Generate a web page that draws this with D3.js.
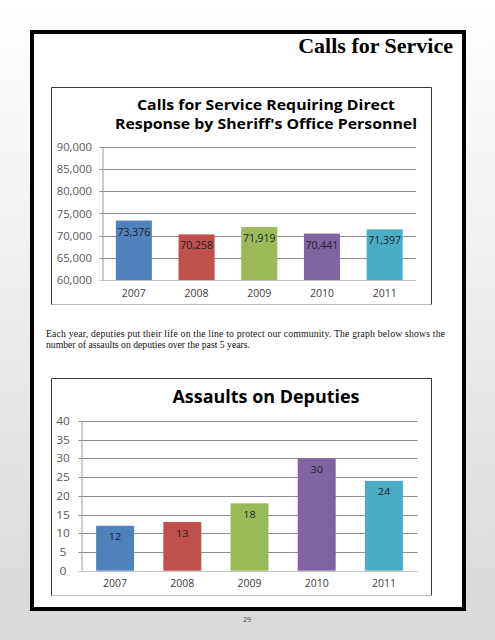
<!DOCTYPE html>
<html><head><meta charset="utf-8">
<script src="https://cdn.jsdelivr.net/npm/d3@7"></script>
<style>html,body{margin:0;padding:0;overflow:hidden;}svg{display:block;}</style>
</head><body>
<script>
// ---- data ----
const years = ["2007", "2008", "2009", "2010", "2011"];
const callsValues = [73376, 70258, 71919, 70441, 71397];
const assaultValues = [12, 13, 18, 30, 24];
const barColors = ["#4f81bd", "#c0504d", "#9bbb59", "#8064a2", "#4bacc6"];
const callsTicks = [60000, 65000, 70000, 75000, 80000, 85000, 90000];
const assaultTicks = [0, 5, 10, 15, 20, 25, 30, 35, 40];
const pageTitle = "Calls for Service";
const chart1Title = ["Calls for Service Requiring Direct", "Response by Sheriff's Office Personnel"];
const chart2Title = "Assaults on Deputies";
const paragraph = ["Each year, deputies put their life on the line to protect our community.  The graph below shows the",
                   "number of assaults on deputies over the past 5 years."];
const pageNumber = "29";

const W = 495, H = 640;
const sans = "'Open Sans', 'DejaVu Sans', sans-serif";
const serif = "'Liberation Serif', 'Times New Roman', serif";

const svg = d3.select("body").append("svg").attr("width", W).attr("height", H);
const defs = svg.append("defs");
const grad = defs.append("linearGradient").attr("id", "bg").attr("x1", 0).attr("y1", 0).attr("x2", 0).attr("y2", 1);
grad.append("stop").attr("offset", "0%").attr("stop-color", "#ffffff");
grad.append("stop").attr("offset", "100%").attr("stop-color", "#d8d8d8");
svg.append("rect").attr("width", W).attr("height", H).attr("fill", "url(#bg)");

// page border
svg.append("rect").attr("x", 32).attr("y", 32).attr("width", 432).attr("height", 577)
  .attr("fill", "#fff").attr("stroke", "#000").attr("stroke-width", 4);

svg.append("text").attr("x", 453).attr("y", 53).attr("text-anchor", "end")
  .attr("font-family", serif).attr("font-weight", "bold").attr("font-size", 22).attr("fill", "#000")
  .text(pageTitle);

function stretch(sel, k) {
  sel.each(function () {
    const l = this.getComputedTextLength();
    d3.select(this).attr("textLength", l * k).attr("lengthAdjust", "spacingAndGlyphs");
  });
}

function frame(g, x0, y0, x1, y1) {
  g.append("line").attr("x1", x0).attr("x2", x1).attr("y1", y1).attr("y2", y1).attr("stroke", "#b8b8b8");
  g.append("line").attr("x1", x0).attr("x2", x0).attr("y1", y0).attr("y2", y1).attr("stroke", "#3a3a3a");
  g.append("line").attr("x1", x0).attr("x2", x1).attr("y1", y0).attr("y2", y0).attr("stroke", "#3a3a3a");
  g.append("line").attr("x1", x1).attr("x2", x1).attr("y1", y0).attr("y2", y1).attr("stroke", "#3a3a3a");
}

function barChart(opts) {
  const g = svg.append("g");
  frame(g, 51.5, opts.fy0, 431.5, opts.fy1);
  const x = d3.scaleBand().domain(years).range([opts.x0, opts.x1])
    .paddingInner(opts.pad).paddingOuter(opts.pad / 2);
  const y = d3.scaleLinear().domain(opts.domain).range([opts.yb, opts.yt]);

  // gridlines
  g.selectAll(".grid").data(opts.ticks.slice(1)).join("line")
    .attr("x1", opts.x0 - 3).attr("x2", opts.x1)
    .attr("y1", d => Math.round(y(d)) + 0.5).attr("y2", d => Math.round(y(d)) + 0.5)
    .attr("stroke", "#8f8f8f").attr("stroke-width", 1);
  // y axis line
  g.append("line").attr("x1", opts.x0 + 0.5).attr("x2", opts.x0 + 0.5)
    .attr("y1", y(opts.domain[1])).attr("y2", y(opts.domain[0])).attr("stroke", "#9a9a9a");

  // bars
  g.selectAll(".bar").data(years).join("rect")
    .attr("x", d => x(d)).attr("width", x.bandwidth())
    .attr("y", (d, i) => y(opts.values[i]))
    .attr("height", (d, i) => y(opts.domain[0]) - y(opts.values[i]))
    .attr("fill", (d, i) => barColors[i]);

  // base line
  g.append("line").attr("x1", opts.x0 - 3).attr("x2", opts.x1)
    .attr("y1", Math.round(y(opts.domain[0])) + 0.5).attr("y2", Math.round(y(opts.domain[0])) + 0.5)
    .attr("stroke", "#c4c4c4");

  // y tick labels
  const yAxis = d3.axisLeft(y).tickValues(opts.ticks).tickSize(0).tickPadding(0)
    .tickFormat(opts.fmt);
  const ya = g.append("g").attr("transform", `translate(${opts.ylabX},0)`).call(yAxis);
  ya.select(".domain").remove();
  ya.selectAll("text").attr("font-family", sans).attr("font-size", opts.yFont)
    .attr("fill", "#5a5a5a").attr("text-anchor", opts.yAnchor).attr("dy", "0.35em");
  stretch(ya.selectAll("text"), opts.yStretch);

  // x labels
  const xAxis = d3.axisBottom(x).tickSize(0).tickPadding(0);
  const xa = g.append("g").attr("transform", `translate(0,${opts.xlabY})`).call(xAxis);
  xa.select(".domain").remove();
  xa.selectAll("text").attr("font-family", sans).attr("font-size", 10.5)
    .attr("fill", "#404040").attr("dy", 0);

  // data labels
  g.selectAll(".lbl").data(years).join("text")
    .attr("x", d => x(d) + x.bandwidth() / 2)
    .attr("y", (d, i) => y(opts.values[i]) + opts.lblOff)
    .attr("text-anchor", "middle").attr("font-family", sans).attr("font-size", opts.lblFont)
    .attr("fill", "#1e1e2a")
    .text((d, i) => opts.fmt(opts.values[i]))
    .call(s => stretch(s, opts.lblStretch));

  // title
  opts.title.forEach((t, i) => {
    g.append("text").attr("x", 266).attr("y", opts.titleY[i]).attr("text-anchor", "middle")
      .attr("font-family", sans).attr("font-weight", "bold").attr("font-size", opts.titleFont)
      .attr("fill", "#000").attr("textLength", opts.titleLen[i]).attr("lengthAdjust", "spacingAndGlyphs")
      .text(t);
  });
}

barChart({
  fy0: 87.5, fy1: 304.5, x0: 102.5, x1: 416, yb: 280, yt: 146.7,
  domain: [60000, 90000], ticks: callsTicks, values: callsValues, pad: 0.425,
  fmt: d3.format(","), ylabX: 92, yAnchor: "end", yFont: 10.5, yStretch: 1.08,
  xlabY: 296.5, lblOff: 15, lblFont: 10.5, lblStretch: 1.0,
  title: chart1Title, titleY: [110, 128.5], titleFont: 13.5, titleLen: [258, 302]
});

barChart({
  fy0: 378.5, fy1: 595.5, x0: 81.5, x1: 417.5, yb: 570.7, yt: 421,
  domain: [0, 40], ticks: assaultTicks, values: assaultValues, pad: 0.435,
  fmt: d3.format("d"), ylabX: 63, yAnchor: "middle", yFont: 10, yStretch: 1.2,
  xlabY: 586.5, lblOff: 14.5, lblFont: 9.5, lblStretch: 1.15,
  title: [chart2Title], titleY: [403], titleFont: 18, titleLen: [187]
});

// paragraph
svg.append("text").attr("x", 46).attr("y", 336.5).attr("font-family", serif).attr("font-size", 9.7)
  .attr("fill", "#111").attr("textLength", 399).attr("lengthAdjust", "spacing").text(paragraph[0]);
svg.append("text").attr("x", 46).attr("y", 348.2).attr("font-family", serif).attr("font-size", 9.7)
  .attr("fill", "#111").text(paragraph[1]);

// page number
svg.append("text").attr("x", 247).attr("y", 622).attr("text-anchor", "middle")
  .attr("font-family", sans).attr("font-size", 7).attr("fill", "#444").text(pageNumber);
</script>
</body></html>
